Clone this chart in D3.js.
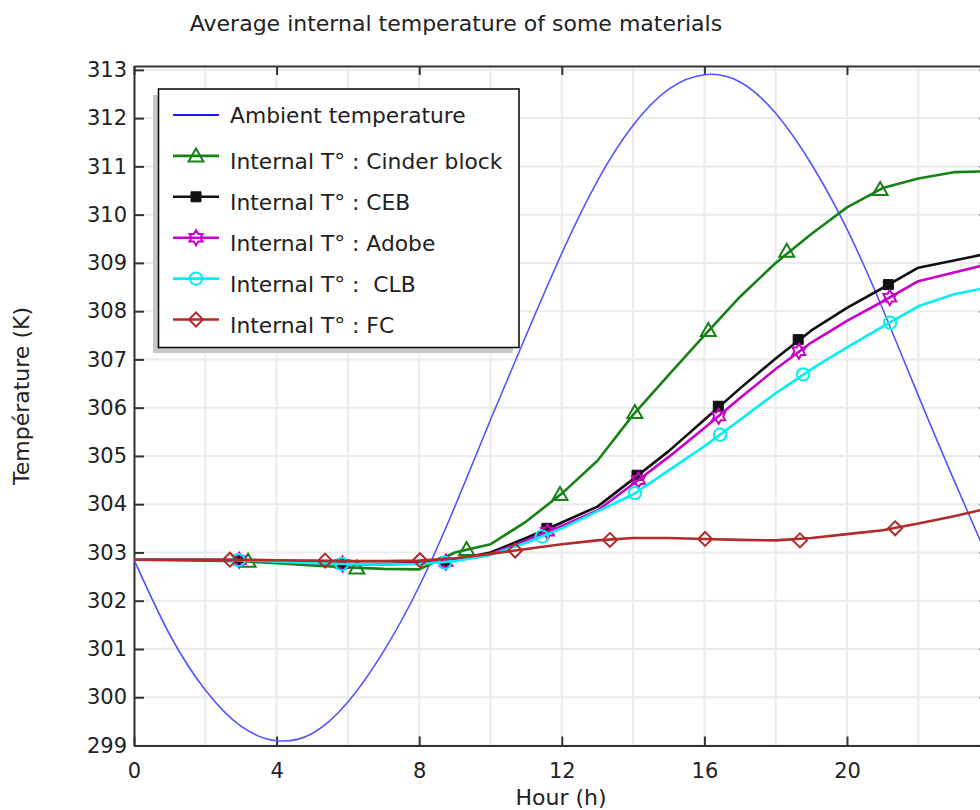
<!DOCTYPE html>
<html>
<head>
<meta charset="utf-8">
<script src="https://cdn.jsdelivr.net/npm/d3@7"></script>
<style>
  body { margin: 0; background: white; }
  text { font-family: "DejaVu Sans", sans-serif; fill: #222; }
</style>
</head>
<body>
<div id="canvas"></div>
<script>
"use strict"

/* drawing size */
let svgWidth = 980;
let svgHeight = 810;

/* plot area (the right edge runs past the window, like the reference) */
let plotLeft = 134;
let plotRight = 989.6;
let plotTop = 66;
let plotBottom = 745.5;

/* time axis, one reading per hour */
let hours = [0, 1, 2, 3, 4, 5, 6, 7, 8, 9, 10, 11, 12, 13, 14, 15, 16, 17, 18, 19, 20, 21, 22, 23, 24];

/* temperatures (K) */
let ambient = [302.85, 301.3, 300.15, 299.4, 299.1, 299.25, 299.9, 300.95, 302.3, 303.95, 305.75, 307.5,
    309.2, 310.7, 311.85, 312.6, 312.9, 312.75, 312.1, 311.05, 309.7, 308.05, 306.25, 304.5, 302.8];
let cinder = [302.85, 302.84, 302.83, 302.82, 302.78, 302.73, 302.69, 302.66, 302.65, 303.0, 303.17, 303.64,
    304.22, 304.9, 305.85, 306.68, 307.5, 308.3, 309.0, 309.6, 310.15, 310.55, 310.75, 310.88, 310.9];
let ceb = [302.85, 302.85, 302.85, 302.84, 302.81, 302.78, 302.76, 302.76, 302.78, 302.85, 303.0, 303.3,
    303.62, 303.95, 304.52, 305.1, 305.75, 306.4, 307.02, 307.6, 308.07, 308.48, 308.9, 309.05, 309.2];
let adobe = [302.85, 302.85, 302.85, 302.84, 302.81, 302.78, 302.76, 302.75, 302.77, 302.83, 302.97, 303.25,
    303.55, 303.87, 304.42, 304.98, 305.58, 306.2, 306.8, 307.35, 307.8, 308.2, 308.62, 308.8, 308.98];
let clb = [302.85, 302.85, 302.85, 302.84, 302.81, 302.78, 302.76, 302.75, 302.76, 302.82, 302.95, 303.2,
    303.5, 303.85, 304.2, 304.7, 305.2, 305.75, 306.3, 306.8, 307.25, 307.68, 308.1, 308.35, 308.5];
let fc = [302.85, 302.85, 302.85, 302.85, 302.84, 302.83, 302.82, 302.82, 302.83, 302.88, 302.97, 303.07,
    303.17, 303.25, 303.3, 303.3, 303.28, 303.26, 303.25, 303.3, 303.38, 303.46, 303.6, 303.75, 303.92];

/* marker positions [hour, K] as they sit on each curve */
let cinderMarks = [[3.2, 302.82], [6.25, 302.68], [9.33, 303.06], [11.95, 304.2], [14.05, 305.9],
    [16.11, 307.6], [18.31, 309.24], [20.93, 310.52]];
let cebMarks = [[2.93, 302.84], [5.83, 302.76], [8.72, 302.8], [11.58, 303.5], [14.11, 304.6],
    [16.39, 306.03], [18.63, 307.41], [21.16, 308.55]];
let adobeMarks = [[2.95, 302.84], [5.85, 302.76], [8.75, 302.8], [11.6, 303.43], [14.15, 304.5],
    [16.4, 305.82], [18.65, 307.17], [21.2, 308.28]];
let clbMarks = [[2.93, 302.84], [5.83, 302.76], [8.72, 302.79], [11.44, 303.33], [14.05, 304.23],
    [16.44, 305.44], [18.77, 306.69], [21.21, 307.76]];
let fcMarks = [[2.69, 302.85], [5.36, 302.83], [8.02, 302.84], [10.69, 303.04], [13.35, 303.26],
    [16.02, 303.28], [18.68, 303.25], [21.35, 303.5]];

/* ticks */
let xTicks = [0, 4, 8, 12, 16, 20, 24];
let xGrid = [0, 2, 4, 6, 8, 10, 12, 14, 16, 18, 20, 22, 24];
let yTicks = [299, 300, 301, 302, 303, 304, 305, 306, 307, 308, 309, 310, 311, 312, 313];

let legendLabels = ["Ambient temperature", "Internal T° : Cinder block", "Internal T° : CEB",
    "Internal T° : Adobe", "Internal T° :  CLB", "Internal T° : FC"];

/* series table, in legend order (later ones drawn on top) */
let series = [
    { name: "cinder", values: cinder, marks: cinderMarks, color: "#168216", marker: "triangle" },
    { name: "ceb", values: ceb, marks: cebMarks, color: "#111111", marker: "square" },
    { name: "adobe", values: adobe, marks: adobeMarks, color: "#c800c8", marker: "star" },
    { name: "clb", values: clb, marks: clbMarks, color: "#00f0f0", marker: "circle" },
    { name: "fc", values: fc, marks: fcMarks, color: "#b22a2a", marker: "diamond" }
];

let svg = d3.select("#canvas")
    .append("svg")
    .attr("width", svgWidth)
    .attr("height", svgHeight);

let xScale = d3.scaleLinear()
    .domain([0, 24])
    .range([plotLeft, plotRight]);

let yScale = d3.scaleLinear()
    .domain([299, 313.08])
    .range([plotBottom, plotTop]);

svg.append("clipPath")
    .attr("id", "plotClip")
    .append("rect")
    .attr("x", plotLeft)
    .attr("y", plotTop)
    .attr("width", plotRight - plotLeft)
    .attr("height", plotBottom - plotTop);

/* title */
svg.append("text")
    .attr("x", 456)
    .attr("y", 31)
    .attr("text-anchor", "middle")
    .style("font-size", "22px")
    .text("Average internal temperature of some materials");

/* grid */
svg.append("g")
    .selectAll("line")
    .data(xGrid)
    .join("line")
    .attr("x1", d => xScale(d))
    .attr("x2", d => xScale(d))
    .attr("y1", plotTop)
    .attr("y2", plotBottom)
    .attr("stroke", "#ebebeb")
    .attr("stroke-width", 2);

svg.append("g")
    .selectAll("line")
    .data(yTicks)
    .join("line")
    .attr("x1", plotLeft)
    .attr("x2", plotRight)
    .attr("y1", d => yScale(d))
    .attr("y2", d => yScale(d))
    .attr("stroke", "#ebebeb")
    .attr("stroke-width", 2);

/* axes */
function styleAxis(g) {
    g.selectAll("path, line").attr("stroke", "#333").attr("stroke-width", 2);
    g.selectAll("text").style("font-family", "DejaVu Sans").style("font-size", "21px").attr("fill", "#222");
}

/* the 24 label falls outside the window in the reference */
svg.append("g")
    .attr("transform", "translate(0," + plotBottom + ")")
    .call(d3.axisBottom(xScale).tickValues(xTicks).tickSize(-9).tickSizeOuter(0).tickPadding(17.5)
        .tickFormat(d => d === 24 ? "" : d))
    .call(styleAxis);

svg.append("g")
    .attr("transform", "translate(0," + plotTop + ")")
    .call(d3.axisTop(xScale).tickValues(xTicks).tickSize(-9).tickSizeOuter(0).tickFormat(""))
    .call(styleAxis);

svg.append("g")
    .attr("transform", "translate(" + plotLeft + ",0)")
    .call(d3.axisLeft(yScale).tickValues(yTicks).tickSize(-10).tickSizeOuter(0).tickPadding(7))
    .call(styleAxis);

svg.append("g")
    .attr("transform", "translate(" + plotRight + ",0)")
    .call(d3.axisRight(yScale).tickValues(yTicks).tickSize(-10).tickSizeOuter(0).tickFormat(""))
    .call(styleAxis);

/* axis labels */
svg.append("text")
    .attr("x", 561)
    .attr("y", 805)
    .attr("text-anchor", "middle")
    .style("font-size", "22px")
    .text("Hour (h)");

svg.append("text")
    .attr("x", -396)
    .attr("y", 29)
    .attr("text-anchor", "middle")
    .attr("transform", "rotate(-90)")
    .style("font-size", "22px")
    .text("Température (K)");

/* marker shapes */
function markerPath(kind) {
    if (kind === "triangle") return "M0,-7.5L7.5,5.5L-7.5,5.5Z";
    if (kind === "square") return "M-5,-5H5V5H-5Z";
    if (kind === "circle") return d3.symbol(d3.symbolCircle, 120)();
    if (kind === "diamond") return "M0,-7L7,0L0,7L-7,0Z";
    // hexagram outline
    let pts = [];
    for (let k = 0; k < 12; k++) {
        let r = k % 2 === 0 ? 7.5 : 4.4;
        let a = -Math.PI / 2 + k * Math.PI / 6;
        pts.push([r * Math.cos(a), r * Math.sin(a)]);
    }
    return "M" + pts.map(p => p[0].toFixed(2) + "," + p[1].toFixed(2)).join("L") + "Z";
}

function drawMarker(g, kind, color) {
    g.append("path")
        .attr("d", markerPath(kind))
        .attr("fill", kind === "square" ? color : "none")
        .attr("stroke", color)
        .attr("stroke-width", kind === "square" ? 1 : 2);
}

let plot = svg.append("g").attr("clip-path", "url(#plotClip)");

let line = d3.line()
    .x((d, i) => xScale(hours[i]))
    .y(d => yScale(d));

/* ambient temperature */
plot.append("path")
    .attr("d", d3.line().x((d, i) => xScale(hours[i])).y(d => yScale(d)).curve(d3.curveNatural)(ambient))
    .attr("fill", "none")
    .attr("stroke", "#5555ff")
    .attr("stroke-width", 1.6);

/* material curves with their markers */
series.forEach(function(s) {
    plot.append("path")
        .attr("d", line(s.values))
        .attr("fill", "none")
        .attr("stroke", s.color)
        .attr("stroke-width", 2.6)
        .attr("stroke-linejoin", "round");

    plot.append("g")
        .selectAll("g")
        .data(s.marks)
        .join("g")
        .attr("transform", d => "translate(" + xScale(d[0]) + "," + yScale(d[1]) + ")")
        .each(function() { drawMarker(d3.select(this), s.marker, s.color); });
});

/* legend */
svg.append("rect")
    .attr("x", 153)
    .attr("y", 95)
    .attr("width", 360)
    .attr("height", 258)
    .attr("fill", "#c8c8c8");

svg.append("rect")
    .attr("x", 158.5)
    .attr("y", 89)
    .attr("width", 360.5)
    .attr("height", 258.5)
    .attr("fill", "white")
    .attr("stroke", "#111")
    .attr("stroke-width", 1.6);

let legendColors = ["#1a1aff", "#168216", "#111111", "#c800c8", "#00f0f0", "#b22a2a"];
let legendMarkers = [null, "triangle", "square", "star", "circle", "diamond"];

legendLabels.forEach(function(label, i) {
    let ly = 115 + i * 40.9;
    svg.append("line")
        .attr("x1", 173)
        .attr("x2", 219)
        .attr("y1", ly)
        .attr("y2", ly)
        .attr("stroke", legendColors[i])
        .attr("stroke-width", i === 0 ? 2 : 2.6);
    if (legendMarkers[i]) {
        drawMarker(svg.append("g").attr("transform", "translate(196," + ly + ")"),
            legendMarkers[i], legendColors[i]);
    }
    svg.append("text")
        .attr("x", 230)
        .attr("y", ly + (i === 0 ? 8.3 : 13.3))
        .style("font-size", "21.8px")
        .style("white-space", "pre")
        .text(label);
});
</script>
</body>
</html>
